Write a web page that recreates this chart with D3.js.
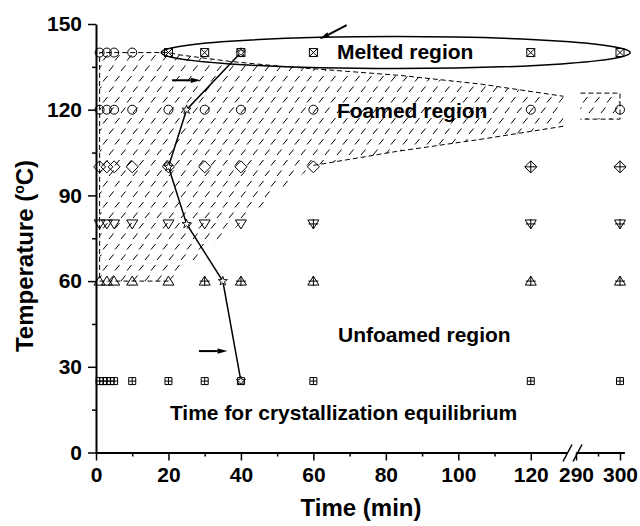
<!DOCTYPE html>
<html>
<head>
<meta charset="utf-8">
<script src="https://cdn.jsdelivr.net/npm/d3@7"></script>
<style>
  body { margin: 0; background: #fff; }
  svg text { font-family: "Liberation Sans", Arial, Helvetica, sans-serif; font-weight: bold; fill: #000; }
</style>
</head>
<body>
<svg id="chart" width="640" height="526"></svg>
<script>
// ---- axis ticks ----
const yTicks = [0, 30, 60, 90, 120, 150];
const yMinorTicks = [15, 45, 75, 105, 135];
const xTicksLeft = [0, 20, 40, 60, 80, 100, 120];
const xMinorLeft = [10, 30, 50, 70, 90, 110];
const xTicksRight = [290, 300];
const xMinorRight = [295];

// ---- foaming trials: saturation time (min) at each temperature ----
const unfoamed25 = [1, 2, 3, 4, 5, 10, 20, 30, 40, 60, 120, 300];
const foamed60 = [1, 3, 5, 10, 20];
const unfoamed60 = [30, 40, 60, 120, 300];
const foamed80 = [1, 3, 5, 10, 20, 30, 40];
const unfoamed80 = [60, 120, 300];
const foamed100 = [1, 3, 5, 10, 20, 30, 40, 60];
const unfoamed100 = [120, 300];
const foamed120 = [1, 3, 5, 10, 20, 30, 40, 60, 120, 300];
const foamed140 = [1, 3, 5, 10];
const melted140 = [20, 30, 40, 60, 120, 300];

// ---- time needed to reach crystallization equilibrium ----
const eqTime = [40, 25, 20, 25, 35, 40];
const eqTemp = [140, 120, 100, 80, 60, 25];

// ---- foamed-region outline (time, temperature) ----
const foamTopT = [20, 23, 37, 51, 84, 106, 129];
const foamTopV = [140, 139.2, 136.9, 135.2, 132, 129, 124.7];
const foamBottomT = [60, 83, 106, 129];
const foamBottomV = [100.5, 105.4, 109.6, 114.2];
const foamTailT = [291, 300];
const foamTailV = [125.8, 116.7];

const svg = d3.select('#chart');
const FONT = '"Liberation Sans", Arial, Helvetica, sans-serif';

// broken time axis: 0-130 then 290-301
const xL = d3.scaleLinear().domain([0, 130]).range([96, 567]);
const xR = d3.scaleLinear().domain([290, 301]).range([576, 624.4]);
const x = t => (t < 200 ? xL(t) : xR(t));
const y = d3.scaleLinear().domain([0, 150]).range([452.5, 24]);

// hatch pattern for the foamed region
const defs = svg.append('defs');
defs.append('pattern')
  .attr('id', 'hatch')
  .attr('patternUnits', 'userSpaceOnUse')
  .attr('width', 12).attr('height', 21)
  .append('path')
  .attr('d', 'M1,8 L5.5,2.5 M7,18.5 L11.5,13')
  .attr('stroke', '#000').attr('stroke-width', 1).attr('fill', 'none');

const line = d3.line().x(d => x(d[0])).y(d => y(d[1]));

// ---- foamed region ----
const topPts = foamTopT.map((t, i) => [t, foamTopV[i]]);
const botPts = foamBottomT.map((t, i) => [t, foamBottomV[i]]);
const regionPoly = [[1, 60], [1, 140], ...topPts, ...botPts.slice().reverse(), [20, 60]];
svg.append('path').attr('d', line(regionPoly) + 'Z').attr('fill', 'url(#hatch)').attr('stroke', 'none');

const tailPoly = [[foamTailT[0], foamTailV[0]], [foamTailT[1], foamTailV[0]], [foamTailT[1], foamTailV[1]], [foamTailT[0], foamTailV[1]]];
svg.append('path').attr('d', line(tailPoly) + 'Z').attr('fill', 'url(#hatch)').attr('stroke', 'none');

const dashed = g => g.attr('fill', 'none').attr('stroke', '#000').attr('stroke-width', 1).attr('stroke-dasharray', '5,3');
svg.append('path').attr('d', line([[20, 60], [1, 60], [1, 140], ...topPts])).call(dashed);
svg.append('path').attr('d', line(botPts)).call(dashed);
svg.append('path').attr('d', line(tailPoly)).call(dashed);

// ---- melted region ellipse ----
const ex0 = x(18), ex1 = xR(302.3);
svg.append('ellipse')
  .attr('cx', (ex0 + ex1) / 2).attr('cy', y(140))
  .attr('rx', (ex1 - ex0) / 2).attr('ry', y(134.4) - y(140))
  .attr('fill', 'none').attr('stroke', '#000').attr('stroke-width', 1.5);

// ---- axes ----
function styleAxis(g) {
  g.attr('font-family', FONT).attr('font-size', 21).attr('font-weight', 'bold');
  g.select('.domain').attr('stroke-width', 2);
  g.selectAll('.tick line').attr('stroke-width', 1.5);
  g.selectAll('.tick text').attr('fill', '#000');
}
const bottomY = y(0);
svg.append('g').attr('transform', `translate(0,${bottomY})`)
  .call(d3.axisBottom(xL).tickValues(xTicksLeft).tickSize(8).tickSizeOuter(0).tickPadding(7))
  .call(styleAxis);
svg.append('g').attr('transform', `translate(0,${bottomY})`)
  .call(d3.axisBottom(xR).tickValues(xTicksRight).tickSize(8).tickSizeOuter(0).tickPadding(7))
  .call(styleAxis);
[[xL, xMinorLeft], [xR, xMinorRight]].forEach(([s, v]) => {
  const g = svg.append('g').attr('transform', `translate(0,${bottomY})`)
    .call(d3.axisBottom(s).tickValues(v).tickSize(4).tickFormat(''));
  g.select('.domain').remove();
  g.selectAll('.tick line').attr('stroke-width', 1.5);
});
svg.append('g').attr('transform', `translate(${xL(0)},0)`)
  .call(d3.axisLeft(y).tickValues(yTicks).tickSize(8).tickSizeOuter(0).tickPadding(6))
  .call(styleAxis);
const ym = svg.append('g').attr('transform', `translate(${xL(0)},0)`)
  .call(d3.axisLeft(y).tickValues(yMinorTicks).tickSize(4).tickFormat(''));
ym.select('.domain').remove();
ym.selectAll('.tick line').attr('stroke-width', 1.5);

// axis break marks
const bx = xL(130);
svg.append('path')
  .attr('d', `M${bx - 4},${bottomY + 9}L${bx + 5},${bottomY - 8}M${bx + 6},${bottomY + 9}L${bx + 15},${bottomY - 8}`)
  .attr('stroke', '#000').attr('stroke-width', 1.5).attr('fill', 'none');

// ---- trial markers ----
const shapes = {
  circle: `M4.5,0A4.5,4.5 0 1,1 -4.5,0A4.5,4.5 0 1,1 4.5,0Z`,
  diamond: 'M0,-6L6,0L0,6L-6,0Z',
  triUp: 'M0,-5L5.5,4L-5.5,4Z',
  triDown: 'M0,5L5.5,-4L-5.5,-4Z',
  square: 'M-3.5,-3.5H3.5V3.5H-3.5Z',
  squareL: 'M-4,-4H4V4H-4Z'
};
const overlays = {
  open: '',
  plus: h => `M${-h},0H${h}M0,${-h}V${h}`,
  cross: h => `M${-h},${-h}L${h},${h}M${-h},${h}L${h},${-h}`
};
const groups = [
  { temp: 25, times: unfoamed25, shape: 'square', kind: 'plus', h: 3.5 },
  { temp: 60, times: foamed60, shape: 'triUp', kind: 'open', h: 5 },
  { temp: 60, times: unfoamed60, shape: 'triUp', kind: 'plus', h: 5 },
  { temp: 80, times: foamed80, shape: 'triDown', kind: 'open', h: 5 },
  { temp: 80, times: unfoamed80, shape: 'triDown', kind: 'plus', h: 5 },
  { temp: 100, times: foamed100, shape: 'diamond', kind: 'open', h: 6 },
  { temp: 100, times: unfoamed100, shape: 'diamond', kind: 'plus', h: 6 },
  { temp: 120, times: foamed120, shape: 'circle', kind: 'open', h: 4.5 },
  { temp: 140, times: foamed140, shape: 'circle', kind: 'open', h: 4.5 },
  { temp: 140, times: melted140, shape: 'squareL', kind: 'cross', h: 4 }
];
groups.forEach(gr => {
  const sel = svg.append('g').selectAll('g').data(gr.times).join('g')
    .attr('transform', t => `translate(${x(t)},${y(gr.temp)})`);
  sel.append('path').attr('d', shapes[gr.shape])
    .attr('fill', 'none').attr('stroke', '#000').attr('stroke-width', 1);
  if (gr.kind !== 'open') {
    sel.append('path').attr('d', overlays[gr.kind](gr.h))
      .attr('fill', 'none').attr('stroke', '#000').attr('stroke-width', 1);
  }
});

// ---- crystallization equilibrium curve ----
const eqPts = eqTime.map((t, i) => [t, eqTemp[i]]);
svg.append('path').attr('d', line(eqPts))
  .attr('fill', 'none').attr('stroke', '#000').attr('stroke-width', 1.5);
svg.append('g').selectAll('path').data(eqPts).join('path')
  .attr('transform', d => `translate(${x(d[0])},${y(d[1])})`)
  .attr('d', d3.symbol(d3.symbolStar).size(26))
  .attr('fill', '#fff').attr('stroke', '#000').attr('stroke-width', 0.9);

// ---- arrows ----
function arrow(t0, v0, t1, v1) {
  const x0 = x(t0), y0 = y(v0), x1 = x(t1), y1 = y(v1);
  const a = Math.atan2(y1 - y0, x1 - x0), L = 10, w = 2.6;
  const bxp = x1 - L * Math.cos(a), byp = y1 - L * Math.sin(a);
  svg.append('path').attr('d', `M${x0},${y0}L${bxp},${byp}`)
    .attr('stroke', '#000').attr('stroke-width', 2).attr('fill', 'none');
  svg.append('path')
    .attr('d', `M${x1},${y1}L${bxp + w * Math.sin(a)},${byp - w * Math.cos(a)}L${bxp - w * Math.sin(a)},${byp + w * Math.cos(a)}Z`)
    .attr('fill', '#000');
}
arrow(69.2, 149.6, 61.7, 144.7);
arrow(21, 130.3, 28.9, 130.3);
arrow(28.4, 35.5, 36.3, 35.5);

// ---- region labels ----
const label = (t, v, s) => svg.append('text').attr('x', x(t)).attr('y', y(v))
  .attr('font-size', 21).text(s);
label(66.5, 137.7, 'Melted region');
label(66.5, 117.1, 'Foamed region');
label(66.8, 38.7, 'Unfoamed region');
label(20.4, 11.4, 'Time for crystallization equilibrium');

// ---- axis titles ----
svg.append('text').attr('x', 361).attr('y', 516).attr('text-anchor', 'middle')
  .attr('font-size', 24).text('Time (min)');
const yt = svg.append('text').attr('transform', 'translate(33,256) rotate(-90)')
  .attr('text-anchor', 'middle').attr('font-size', 24);
yt.append('tspan').text('Temperature (');
yt.append('tspan').attr('font-size', 14).attr('dy', -9).text('o');
yt.append('tspan').attr('dy', 9).text('C)');
</script>
</body>
</html>
